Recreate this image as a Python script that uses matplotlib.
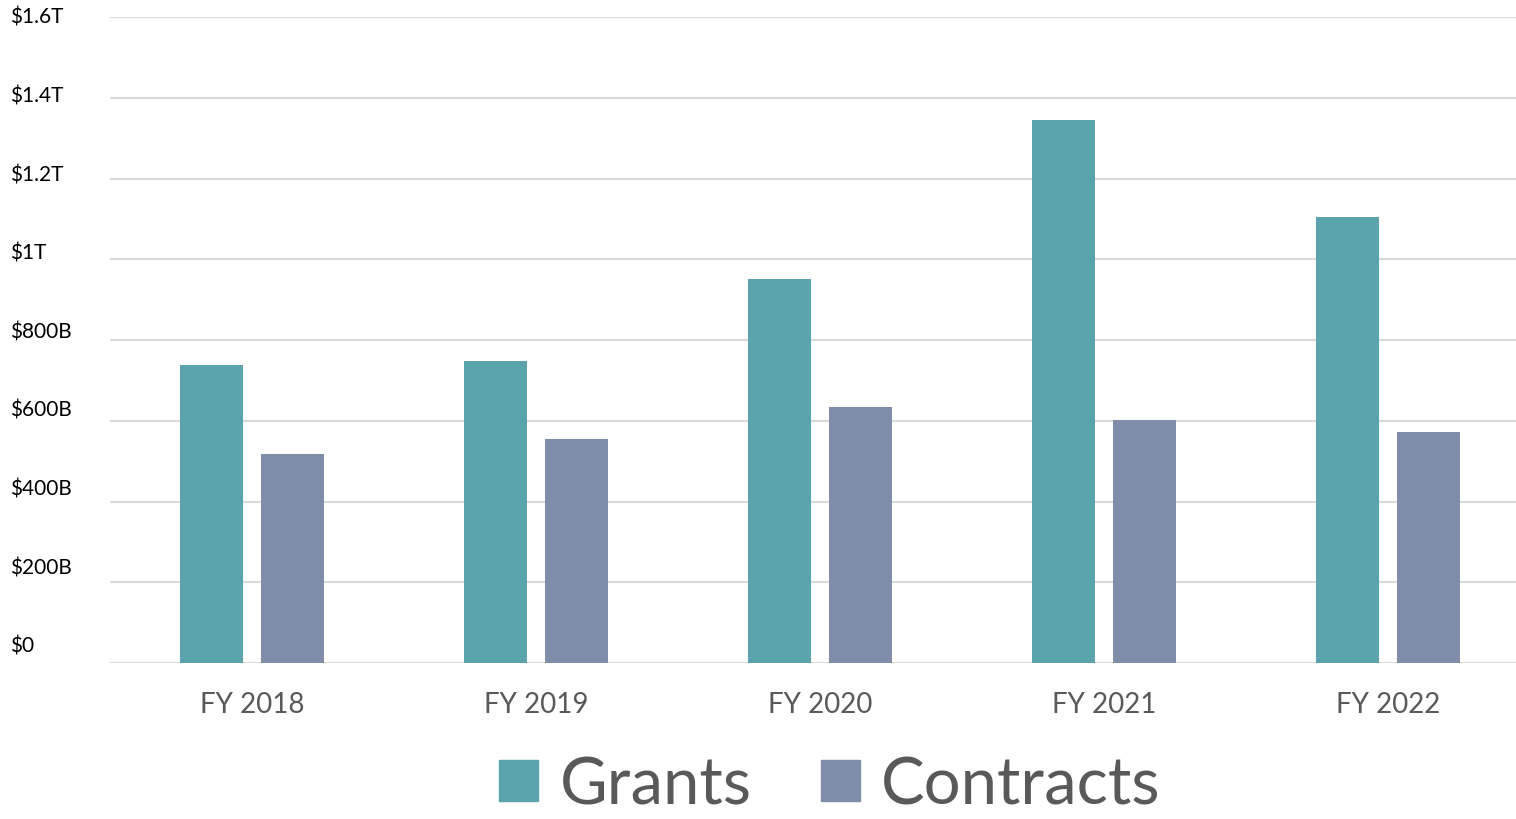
import matplotlib
matplotlib.use("Agg")
import matplotlib.pyplot as plt
import numpy as np
from matplotlib.patches import Patch

years = ["FY 2018", "FY 2019", "FY 2020", "FY 2021", "FY 2022"]
grants = [0.739, 0.747, 0.950, 1.345, 1.104]      # trillions
contracts = [0.518, 0.556, 0.635, 0.603, 0.573]
ytick_vals = [0, 0.2, 0.4, 0.6, 0.8, 1.0, 1.2, 1.4, 1.6]
ytick_labels = ["$0", "$200B", "$400B", "$600B", "$800B", "$1T", "$1.2T", "$1.4T", "$1.6T"]

plt.rcParams['font.family'] = ['Lato', 'DejaVu Sans']

W, H = 1516, 820
fig = plt.figure(figsize=(W / 100, H / 100), dpi=100)
ax = fig.add_axes([110 / W, 1 - 664 / H, 1406 / W, 646 / H])

x = np.arange(len(years))
ax.bar(x - 0.1426, grants, width=0.222, color='#5BA3AD', zorder=3)
ax.bar(x + 0.1426, contracts, width=0.222, color='#7F8DA9', zorder=3)

# category band is 284 px wide, the last one runs past the right edge
ax.set_xlim(-0.5, -0.5 + 1406 / 284)
ax.set_ylim(0, 1.6)
ax.set_yticks(ytick_vals)
ax.set_yticklabels([])
ax.tick_params(axis='y', length=0)
ax.grid(axis='y', color='#D9D9D9', linewidth=1.5, zorder=0)
for s in ax.spines.values():
    s.set_visible(False)

ax.set_xticks(x)
ax.set_xticklabels(years, fontsize=20, color='#595959')
ax.tick_params(axis='x', length=0, pad=20)

# y labels drawn as text, evenly spread from top to bottom like the source
for i, lab in enumerate(ytick_labels[::-1]):
    ypix = 18 + i * 78.6
    fig.text(10 / W, 1 - ypix / H, lab, fontsize=15, color='black',
             ha='left', va='center')

handles = [Patch(color='#5BA3AD', label='Grants'),
           Patch(color='#7F8DA9', label='Contracts')]
fig.legend(handles=handles, loc='center', bbox_to_anchor=(830 / W, 1 - 786 / H),
           ncol=2, frameon=False, fontsize=47, labelcolor='#595959',
           handlelength=0.6, handleheight=0.6, handletextpad=0.33, columnspacing=1.05,
           borderpad=0.1)

fig.savefig("out.png", dpi=100)
